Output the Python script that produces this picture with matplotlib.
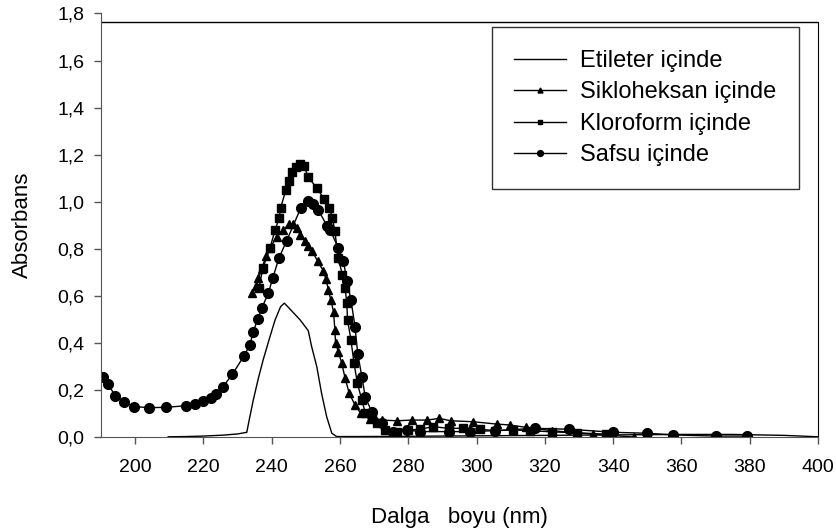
import numpy as np
import matplotlib
matplotlib.use("Agg")
import matplotlib.pyplot as plt
from matplotlib.ticker import FuncFormatter, MultipleLocator

plt.rcParams['font.family'] = ['Liberation Sans', 'DejaVu Sans']

# Etileter icinde (line only)
eti_x = [209.7, 215, 220, 225.8, 230, 232.7, 233.4, 234.6, 236.1, 237.5, 239.5, 241.0,
         242.6, 243.7, 245.4, 248.3, 250.7, 251.7, 253.2, 254.6, 256.1, 257.6, 259.0,
         265, 280, 300, 320, 340, 360, 375, 390, 400]
eti_y = [0.001, 0.002, 0.004, 0.008, 0.013, 0.020, 0.072, 0.157, 0.250, 0.328, 0.427, 0.498,
         0.554, 0.569, 0.543, 0.498, 0.452, 0.384, 0.299, 0.186, 0.086, 0.016, 0.002,
         0.002, 0.003, 0.005, 0.007, 0.009, 0.011, 0.011, 0.007, 0.001]

# Sikloheksan icinde (triangles)
sik_x = [234.3, 235.4, 236.1, 237.1, 238.3, 239.5, 241.5, 243.4, 245.2, 246.3, 247.5,
         248.3, 249.8, 250.7, 251.9, 253.5, 255.1, 255.9, 256.6, 257.3, 258.1, 258.5,
         258.7, 259.5, 260.5, 261.5, 262.7, 264.4, 266.1, 268.8, 272.2, 276.6, 281.0,
         285.4, 289.1, 292.4, 298.9, 305.9, 309.8, 314.5, 322.0, 334.0, 346.1]
sik_y = [0.614, 0.640, 0.675, 0.714, 0.770, 0.803, 0.852, 0.881, 0.905, 0.906, 0.888,
         0.860, 0.831, 0.810, 0.789, 0.746, 0.707, 0.671, 0.626, 0.583, 0.533, 0.455,
         0.399, 0.363, 0.314, 0.250, 0.186, 0.136, 0.100, 0.075, 0.072, 0.069, 0.072,
         0.072, 0.079, 0.069, 0.065, 0.055, 0.051, 0.041, 0.027, 0.012, 0.000]

# Kloroform icinde (squares)
klo_x = [236.3, 237.4, 239.5, 241.0, 242.2, 242.6, 244.1, 245.1, 246.0, 247.1, 248.3,
         249.5, 250.7, 253.2, 255.3, 256.9, 257.8, 258.5, 259.5, 260.7, 261.5, 262.0,
         262.2, 263.2, 264.1, 265.1, 266.4, 267.4, 269.3, 270.9, 273.2, 276.6, 280.0,
         283.4, 287.3, 291.8, 296.1, 301.0, 305.4, 310.7, 315.7, 322.0, 329.3, 338.0]
klo_y = [0.633, 0.718, 0.803, 0.881, 0.930, 0.973, 1.048, 1.089, 1.126, 1.147, 1.162,
         1.150, 1.105, 1.058, 1.013, 0.973, 0.930, 0.874, 0.760, 0.689, 0.633, 0.569,
         0.498, 0.413, 0.314, 0.228, 0.157, 0.103, 0.080, 0.058, 0.030, 0.023, 0.030,
         0.033, 0.044, 0.037, 0.037, 0.033, 0.027, 0.030, 0.027, 0.022, 0.018, 0.012]

# Safsu icinde (circles)
saf_x = [190.7, 192.1, 194.1, 196.7, 199.8, 204.1, 209.0, 214.8, 217.5, 219.8, 222.1,
         223.7, 225.6, 228.5, 231.9, 233.6, 234.6, 235.9, 237.1, 239.0, 240.3, 242.1,
         244.4, 248.5, 250.7, 252.0, 253.6, 256.3, 257.1, 259.5, 261.0, 262.1, 263.2,
         264.4, 265.2, 266.4, 267.4, 269.3, 272.2, 275.6, 279.5, 283.4, 291.8, 298.1,
         305.4, 317.1, 327.1, 340.1, 349.8, 357.6, 370.0, 379.1]
saf_y = [0.257, 0.225, 0.176, 0.150, 0.129, 0.125, 0.126, 0.133, 0.142, 0.153, 0.167,
         0.182, 0.211, 0.267, 0.345, 0.391, 0.448, 0.501, 0.548, 0.611, 0.675, 0.760,
         0.835, 0.973, 1.001, 0.991, 0.966, 0.895, 0.881, 0.803, 0.746, 0.661, 0.583,
         0.469, 0.353, 0.257, 0.169, 0.108, 0.058, 0.023, 0.030, 0.023, 0.023, 0.023,
         0.027, 0.037, 0.033, 0.020, 0.016, 0.009, 0.004, 0.004]

labels = ["Etileter içinde", "Sikloheksan içinde", "Kloroform içinde", "Safsu içinde"]

fig = plt.figure(figsize=(8.36, 5.31), dpi=100)
ax = fig.add_axes([0.1208, 0.177, 0.8577, 0.7976])

ax.plot(eti_x, eti_y, color='black', lw=1.0, label=labels[0])
ax.plot(sik_x, sik_y, color='black', lw=1.0, marker='^', ms=6, label=labels[1])
ax.plot(klo_x, klo_y, color='black', lw=1.0, marker='s', ms=5.5, label=labels[2])
ax.plot(saf_x, saf_y, color='black', lw=1.0, marker='o', ms=7, label=labels[3])

ax.set_xlim(190, 400)
ax.set_ylim(0, 1.8)
ax.yaxis.set_major_locator(MultipleLocator(0.2))
ax.yaxis.set_major_formatter(FuncFormatter(lambda v, p: f"{v:.1f}".replace('.', ',')))
ax.set_xticks(np.arange(200, 401, 20))

frame_top = 1.765
ax.spines['top'].set_visible(False)
ax.spines['right'].set_bounds(0, frame_top)
ax.axhline(frame_top, color='black', lw=1.0)
ax.spines['left'].set_color('#555555')
ax.spines['bottom'].set_color('#555555')
ax.tick_params(direction='out', length=5, width=1, color='#555555', labelsize=14)
ax.tick_params(axis='x', pad=11)
ax.tick_params(axis='y', pad=7)

ax.set_xlabel("Dalga   boyu (nm)", fontsize=16)
ax.set_ylabel("Absorbans", fontsize=16)
ax.xaxis.set_label_coords(0.5, -0.165)
ax.yaxis.set_label_coords(-0.095, 0.5)

leg = ax.legend(loc='upper left', bbox_to_anchor=(0.545, 0.967), frameon=True,
                fancybox=False, edgecolor='black', fontsize=17, markerscale=0.6,
                handlelength=2.2, handletextpad=0.6, borderpad=0.95,
                labelspacing=0.4, borderaxespad=0)
leg.get_frame().set_linewidth(1.0)

fig.savefig("out.png", dpi=100)
